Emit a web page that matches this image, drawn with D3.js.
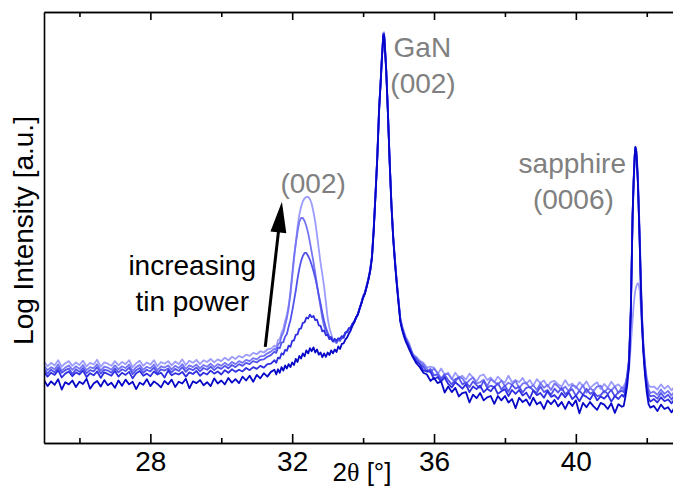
<!DOCTYPE html>
<html>
<head>
<meta charset="utf-8">
<script src="https://cdn.jsdelivr.net/npm/d3@7"></script>
<style>
  html, body { margin: 0; padding: 0; background: #ffffff; }
  svg { display: block; }
  text { font-family: "Liberation Sans", Arial, sans-serif; }
</style>
</head>
<body>
<svg id="chart" width="673" height="488"></svg>
<script>
// ---------------- DATA ----------------
const twoTheta = [
  25.0,25.1,25.2,25.3,25.4,25.5,25.6,25.7,25.8,25.9,26.0,26.1,26.2,26.3,26.4,26.5,26.6,26.7,26.8,26.9,
  27.0,27.1,27.2,27.3,27.4,27.5,27.6,27.7,27.8,27.9,28.0,28.1,28.2,28.3,28.4,28.5,28.6,28.7,28.8,28.9,
  29.0,29.1,29.2,29.3,29.4,29.5,29.6,29.7,29.8,29.9,30.0,30.1,30.2,30.3,30.4,30.5,30.6,30.7,30.8,30.9,
  31.0,31.1,31.2,31.3,31.4,
  31.5,31.55,31.6,31.65,31.7,31.75,31.8,31.85,31.9,31.95,32.0,32.05,32.1,32.15,32.2,32.25,32.3,32.35,32.4,32.45,
  32.5,32.55,32.6,32.65,32.7,32.75,32.8,32.85,32.9,32.95,33.0,33.05,33.1,33.15,33.2,33.25,33.3,33.35,33.4,33.45,
  33.5,33.55,33.6,33.65,33.7,33.75,33.8,33.85,33.9,33.95,
  34.0,34.05,34.1,34.15,34.2,34.25,34.3,34.35,34.4,34.45,34.5,34.53,34.55,34.57,34.59,34.61,34.65,34.7,34.75,34.8,
  34.85,34.9,34.95,35.0,35.05,35.1,35.15,35.2,35.25,35.3,
  35.4,35.5,35.6,35.7,35.8,35.9,36.0,36.1,36.2,36.3,36.4,36.5,36.6,36.7,36.8,36.9,37.0,37.1,37.2,37.3,
  37.4,37.5,37.6,37.7,37.8,37.9,38.0,38.1,38.2,38.3,38.4,38.5,38.6,38.7,38.8,38.9,39.0,39.1,39.2,39.3,
  39.4,39.5,39.6,39.7,39.8,39.9,40.0,40.1,40.2,40.3,40.4,40.5,40.6,40.7,40.8,40.9,41.0,41.1,41.2,41.3,
  41.35,41.4,41.45,41.5,41.55,41.6,41.63,41.66,41.68,41.7,41.72,41.75,41.77,41.8,41.83,41.86,41.9,41.95,42.0,42.05,42.1,
  42.2,42.3,42.4,42.5,42.6,42.7,42.8
];

// log intensity (arbitrary units 0-100), darkest sample -> lightest sample
const sampleA = [
  14.6,13.2,14.3,13.5,14.8,12.4,14.1,13.6,14.5,13.0,14.2,13.7,14.9,12.6,13.8,14.4,13.1,14.6,13.4,14.0,
  12.8,14.5,13.3,14.7,13.6,14.2,12.5,14.0,13.5,14.8,13.2,14.3,13.7,12.9,14.4,13.6,14.7,13.0,14.2,13.8,
  14.9,12.7,14.3,13.9,14.6,13.4,14.1,13.2,15.0,13.8,14.5,13.6,15.1,14.0,14.8,13.9,15.4,14.5,15.6,14.2,
  15.8,15.0,16.2,15.4,16.5,
  17.0,15.9,17.1,16.3,17.6,16.8,18.0,17.3,18.3,17.6,18.7,18.1,19.5,18.8,20.2,19.6,20.8,20.1,21.5,20.8,
  22.0,21.3,22.2,21.0,21.7,20.5,21.0,19.9,20.8,20.0,21.0,20.4,21.5,20.8,21.7,21.1,22.4,21.8,23.0,23.1,
  24.0,24.5,25.4,26.1,27.2,28.0,29.1,29.8,31.1,32.4,
  33.7,34.6,36.2,37.9,39.9,43.0,49.4,57.5,66.0,76.9,84.3,89.1,91.7,94.4,94.6,92.3,86.5,76.3,64.8,54.8,
  47.2,41.6,36.7,32.3,28.1,26.2,24.8,23.6,22.7,21.7,
  20.0,18.5,17.6,16.3,15.9,14.4,15.1,13.9,14.3,11.7,13.1,11.8,12.8,10.8,11.6,11.8,9.4,11.2,10.4,11.6,
  9.9,10.6,10.9,9.1,10.9,9.9,10.9,9.4,10.2,8.1,10.5,9.5,10.1,8.7,10.5,9.0,9.5,7.9,9.9,9.0,
  10.0,8.5,9.5,7.9,9.6,8.6,9.9,6.9,9.3,8.3,9.5,8.5,7.7,9.3,8.9,7.9,9.2,7.0,9.0,8.4,
  8.6,10.8,13.5,18.0,30.0,52.5,60.8,66.6,68.7,67.8,65.3,60.2,54.8,46.5,37.0,28.8,21.5,15.8,11.8,9.0,8.2,
  8.6,7.4,8.9,7.9,8.3,7.1,8.5
];
const sampleB = [
  16.5,15.4,16.3,15.8,16.9,15.2,16.1,16.6,15.5,16.4,15.9,16.8,15.3,16.2,15.7,16.6,15.1,16.4,16.0,15.6,
  16.7,15.4,16.3,15.8,16.5,15.0,16.2,16.7,15.6,16.1,15.5,16.6,15.9,16.3,15.2,16.8,15.7,16.2,15.9,16.5,
  15.4,16.4,16.0,16.7,15.6,16.3,15.9,16.8,16.1,16.6,15.9,16.9,16.3,17.1,16.5,17.0,16.6,17.4,16.9,17.6,
  17.2,17.9,17.5,18.3,18.4,
  19.2,18.6,19.8,19.6,20.8,20.5,21.6,21.4,22.6,22.3,23.7,23.8,25.1,25.2,26.5,26.6,27.9,28.0,29.1,28.9,
  29.8,29.2,29.5,28.5,28.6,27.3,27.2,25.9,26.1,25.0,25.1,24.1,24.4,23.6,24.2,23.7,24.3,24.2,24.8,24.6,
  25.6,25.9,26.6,26.8,27.7,28.2,29.1,29.8,31.2,32.4,
  33.8,34.8,36.3,38.0,40.0,43.0,49.5,57.6,66.2,77.1,84.5,89.4,91.9,94.8,94.9,92.6,86.8,76.6,65.0,55.0,
  47.4,41.9,37.0,32.6,28.4,26.6,25.2,24.0,23.1,22.2,
  20.2,18.9,18.3,16.8,16.7,16.5,14.8,15.3,14.3,15.2,13.7,12.9,14.1,13.4,12.6,13.6,11.8,13.1,12.5,13.3,
  11.8,12.6,12.0,13.1,11.4,12.0,12.5,10.9,12.3,11.4,12.3,11.0,11.7,10.3,12.2,11.1,11.6,10.5,12.0,10.7,
  11.1,10.2,11.6,10.6,11.7,10.2,11.0,9.7,11.2,10.7,10.1,11.5,9.9,10.8,10.3,11.2,9.6,10.9,10.2,11.2,
  10.7,12.0,14.8,18.8,30.6,52.8,60.9,66.7,68.6,67.9,65.5,60.4,55.0,46.9,37.5,29.3,22.2,16.8,12.9,10.5,9.6,
  10.2,9.4,10.6,9.7,10.1,9.2,10.4
];
const sampleC = [
  17.2,16.1,17.0,16.4,17.5,16.3,16.9,17.3,16.0,17.1,16.5,17.4,16.2,16.9,16.6,17.6,16.1,17.0,16.8,16.3,
  17.3,16.4,17.1,16.7,17.5,16.0,16.9,17.4,16.3,17.0,16.6,17.5,16.2,17.1,16.8,17.3,16.4,17.2,16.7,17.6,
  16.5,17.3,16.9,17.5,16.6,17.4,17.0,17.7,16.9,17.6,17.2,17.9,17.3,18.1,17.6,18.3,17.9,18.6,18.3,19.0,
  18.7,19.3,19.4,20.0,20.4,
  21.2,20.9,22.1,22.0,23.3,23.4,24.7,25.3,27.0,28.5,30.6,32.9,35.3,38.1,40.4,42.2,43.4,44.1,44.1,43.4,
  42.5,41.3,39.9,38.3,36.4,34.3,32.3,30.2,28.3,26.7,25.6,24.6,24.6,23.7,23.9,23.5,24.1,23.9,24.6,24.4,
  25.6,25.7,26.6,26.6,27.6,28.1,29.1,29.8,31.2,32.4,
  33.8,34.7,36.3,38.0,40.0,43.1,49.6,57.7,66.3,77.2,84.6,89.5,92.0,95.0,95.0,92.7,86.9,76.7,65.2,55.2,
  47.6,42.0,37.2,32.8,28.6,26.8,25.4,24.2,23.3,22.4,
  20.1,19.7,18.3,17.7,16.5,17.2,15.7,15.9,14.7,15.8,14.6,13.6,14.8,15.1,13.6,14.1,13.0,14.3,13.4,12.8,
  14.4,12.8,13.3,12.9,13.9,12.4,13.3,11.9,13.5,12.6,13.1,11.7,12.8,13.0,12.2,11.6,13.1,11.8,12.3,11.2,
  12.6,11.7,12.8,11.3,12.0,12.5,11.0,12.1,11.2,12.6,11.4,11.9,10.9,11.1,12.1,11.4,12.3,10.8,11.8,12.1,
  11.8,12.8,15.5,19.3,31.0,53.0,61.0,66.8,68.5,68.0,65.7,60.8,55.5,47.3,38.0,29.8,22.8,17.5,13.8,11.6,10.8,
  11.0,10.3,11.6,10.5,11.2,10.1,11.3
];
const sampleD = [
  17.9,16.9,17.6,17.1,18.2,16.8,17.5,18.0,17.0,17.8,17.2,18.1,16.9,17.6,17.3,18.3,16.8,17.7,17.5,17.0,
  18.0,17.1,17.8,17.4,18.2,16.7,17.6,18.1,17.0,17.7,17.3,18.2,16.9,17.8,17.5,18.0,17.1,17.9,17.4,18.3,
  17.2,18.0,17.6,18.2,17.3,18.1,17.7,18.4,17.6,18.3,17.9,18.6,18.0,18.8,18.3,19.0,18.6,19.3,19.0,19.7,
  19.4,20.1,20.2,20.8,21.2,
  21.9,21.5,22.9,23.2,24.8,25.6,27.3,29.0,31.3,35.0,39.0,43.2,46.2,49.0,51.3,52.2,52.2,51.5,50.3,48.7,
  46.6,44.3,42.0,39.4,36.7,34.1,31.6,29.0,27.1,26.0,25.2,24.2,24.1,23.5,23.6,23.2,23.9,23.7,24.3,24.4,
  25.5,25.6,26.5,26.6,27.5,28.0,29.0,29.7,31.1,32.3,
  34.0,34.9,36.5,38.2,40.3,43.4,49.9,58.0,66.6,77.5,84.8,89.5,91.9,94.6,94.8,92.5,86.8,76.6,65.1,55.3,
  47.8,42.2,37.3,32.9,28.8,27.0,25.6,24.4,23.6,22.7,
  20.7,19.3,18.9,18.2,17.2,16.4,17.3,16.3,15.0,16.0,16.0,14.9,14.2,15.4,15.0,13.7,14.6,15.2,13.8,14.1,
  14.7,13.2,14.8,14.2,13.5,14.5,13.2,14.0,13.5,14.5,12.7,13.8,14.0,12.8,13.4,12.3,13.9,12.8,13.5,12.3,
  13.8,13.1,12.3,13.1,12.0,13.4,13.1,12.1,13.4,11.7,12.7,12.1,13.1,13.3,11.7,12.7,12.2,13.1,11.6,12.9,
  12.4,13.4,16.0,19.6,30.5,51.5,60.0,66.0,68.2,68.2,66.5,62.0,57.0,49.0,39.5,31.0,23.8,18.2,14.6,12.5,11.6,
  11.9,11.2,12.4,11.4,12.1,11.0,12.2
];
const sampleE = [
  18.9,17.8,18.6,18.0,19.2,17.7,18.5,19.0,17.9,18.7,18.1,19.1,17.8,18.6,18.2,19.3,17.7,18.7,18.4,17.9,
  19.0,18.0,18.8,18.3,19.2,17.6,18.5,19.1,17.9,18.7,18.2,19.2,17.8,18.8,18.4,19.0,18.0,18.9,18.3,19.4,
  18.1,19.1,18.6,19.3,18.3,19.2,18.8,19.5,18.7,19.4,19.0,19.8,19.2,20.0,19.5,20.2,19.8,20.5,20.2,20.9,
  20.6,21.3,21.0,21.7,21.9,
  22.6,22.2,23.9,24.1,25.6,26.5,28.3,29.7,32.0,34.3,38.5,42.5,46.4,50.1,52.9,54.8,56.1,56.8,57.1,57.1,
  56.6,55.5,53.6,51.3,48.3,45.0,41.8,39.2,36.2,32.7,29.0,26.7,25.3,23.9,23.9,23.2,23.9,23.7,24.6,24.6,
  25.7,25.8,26.7,26.8,27.7,28.2,29.1,29.8,31.2,32.5,
  34.2,35.0,36.6,38.3,40.4,43.5,50.1,58.3,66.9,77.8,85.0,89.8,92.4,95.2,95.3,93.0,87.3,77.2,65.6,55.6,
  48.0,42.4,37.6,33.2,29.0,27.2,25.9,24.7,23.9,23.1,
  20.6,20.0,19.1,18.6,17.5,17.7,17.5,15.9,17.3,15.9,16.3,14.8,16.3,15.2,15.6,14.7,16.1,15.2,14.3,15.6,
  15.9,14.6,15.2,14.1,15.4,14.5,14.0,15.6,14.1,14.6,14.1,15.1,13.7,14.6,13.3,14.8,13.9,14.5,13.1,14.2,
  14.4,13.6,13.1,14.6,13.3,13.8,12.7,14.1,13.2,14.3,12.8,13.5,14.1,12.5,13.7,12.8,14.2,13.1,13.6,12.7,
  13.2,14.0,15.5,16.9,22.7,28.5,32.0,34.3,35.5,36.2,36.7,37.1,36.9,35.5,32.0,27.4,22.7,18.1,15.1,13.5,13.0,
  13.1,12.4,13.6,12.6,13.3,12.2,13.4
];

const sampleSeries = [sampleE, sampleD, sampleC, sampleB, sampleA];   // drawn light -> dark
const sampleColors = ["#9c9cfc", "#7474f4", "#5252ec", "#2e2ee0", "#0606c8"];

const xMajorTicks = [28, 32, 36, 40];
const xMinorTicks = [26, 30, 34, 38, 42];

// annotation anchors in data units (2θ, log intensity)
const peakLabels = [
  { text: "(002)",    x: 32.59, y: 58.0 },
  { text: "GaN",      x: 35.67, y: 89.6 },
  { text: "(002)",    x: 35.69, y: 81.2 },
  { text: "sapphire", x: 39.90, y: 62.6 },
  { text: "(0006)",   x: 39.93, y: 54.4 }
];
const noteLines = [
  { text: "increasing", x: 29.18, y: 39.0 },
  { text: "tin power",  x: 29.18, y: 30.6 }
];
const arrowFrom = { x: 31.24, y: 22.3 };
const arrowTo   = { x: 31.71, y: 56.0 };

// ---------------- CHART ----------------
const W = 673, H = 488;
const margin = { left: 44, top: 12, bottom: 45 };
const plotLeft = margin.left, plotTop = margin.top, plotBottom = H - margin.bottom;
const plotRight = W;

const svg = d3.select("#chart");
svg.append("rect").attr("width", W).attr("height", H).attr("fill", "#ffffff");

const x = d3.scaleLinear().domain([25, 42.74]).range([plotLeft, plotRight]);
const y = d3.scaleLinear().domain([0, 100]).range([plotBottom, plotTop]);

svg.append("clipPath").attr("id", "plotClip")
  .append("rect").attr("x", plotLeft).attr("y", plotTop)
  .attr("width", plotRight - plotLeft).attr("height", plotBottom - plotTop);

sampleSeries.forEach(s => {
  if (s.length !== twoTheta.length) console.error("length mismatch", s.length, twoTheta.length);
});

const line = d3.line()
  .x((d, i) => x(twoTheta[i]))
  .y(d => y(d));

const gLines = svg.append("g").attr("clip-path", "url(#plotClip)");
sampleSeries.forEach((s, k) => {
  gLines.append("path")
    .datum(s)
    .attr("d", line)
    .attr("fill", "none")
    .attr("stroke", sampleColors[k])
    .attr("stroke-width", 1.8)
    .attr("stroke-linejoin", "round");
});

// axes
const axisStroke = "#000000";
function styleAxis(g) {
  g.select(".domain").attr("stroke", axisStroke).attr("stroke-width", 1.6);
  g.selectAll(".tick line").attr("stroke", axisStroke).attr("stroke-width", 1.6);
}
const fontStack = '"Liberation Sans", Arial, sans-serif';

const gBottom = svg.append("g").attr("transform", `translate(0,${plotBottom})`)
  .call(d3.axisBottom(x).tickValues(xMajorTicks).tickSize(-9).tickSizeOuter(0).tickPadding(8).tickFormat(d3.format("d")));
styleAxis(gBottom);
gBottom.selectAll(".tick text")
  .attr("font-family", fontStack).attr("font-size", 28).attr("fill", "#000");

const gBottomMinor = svg.append("g").attr("transform", `translate(0,${plotBottom})`)
  .call(d3.axisBottom(x).tickValues(xMinorTicks).tickSize(-5).tickSizeOuter(0).tickFormat(""));
styleAxis(gBottomMinor);

const gTop = svg.append("g").attr("transform", `translate(0,${plotTop})`)
  .call(d3.axisTop(x).tickValues(xMajorTicks).tickSize(-8).tickSizeOuter(0).tickFormat(""));
styleAxis(gTop);
const gTopMinor = svg.append("g").attr("transform", `translate(0,${plotTop})`)
  .call(d3.axisTop(x).tickValues(xMinorTicks).tickSize(-5).tickSizeOuter(0).tickFormat(""));
styleAxis(gTopMinor);

const gLeft = svg.append("g").attr("transform", `translate(${plotLeft},0)`)
  .call(d3.axisLeft(y).tickValues([]).tickSizeOuter(0));
styleAxis(gLeft);

// axis titles
svg.append("text")
  .attr("transform", `translate(33,${(plotTop + plotBottom) / 2 + 3}) rotate(-90)`)
  .attr("text-anchor", "middle")
  .attr("font-size", 28)
  .attr("fill", "#000")
  .text("Log Intensity [a.u.]");

const xTitle = svg.append("text")
  .attr("x", 362).attr("y", 481)
  .attr("text-anchor", "middle")
  .attr("font-size", 26)
  .attr("fill", "#000");
xTitle.append("tspan").text("2");
xTitle.append("tspan").attr("font-family", '"Liberation Serif", "DejaVu Serif", serif').text("θ");
xTitle.append("tspan").text(" [°]");

// peak labels
svg.append("g").selectAll("text")
  .data(peakLabels).join("text")
  .attr("x", d => x(d.x)).attr("y", d => y(d.y))
  .attr("text-anchor", "middle")
  .attr("font-size", 28)
  .attr("fill", "#808080")
  .text(d => d.text);

// note
svg.append("g").selectAll("text")
  .data(noteLines).join("text")
  .attr("x", d => x(d.x)).attr("y", d => y(d.y))
  .attr("text-anchor", "middle")
  .attr("font-size", 28)
  .attr("fill", "#000")
  .text(d => d.text);

// arrow
const ax0 = x(arrowFrom.x), ay0 = y(arrowFrom.y);
const ax1 = x(arrowTo.x), ay1 = y(arrowTo.y);
const len = Math.hypot(ax1 - ax0, ay1 - ay0);
const ux = (ax1 - ax0) / len, uy = (ay1 - ay0) / len;
const headLen = 31, headHalf = 8;
const bx = ax1 - ux * headLen, by = ay1 - uy * headLen;
svg.append("line")
  .attr("x1", ax0).attr("y1", ay0).attr("x2", bx + ux * 2).attr("y2", by + uy * 2)
  .attr("stroke", "#000").attr("stroke-width", 3);
svg.append("path")
  .attr("d", `M${ax1},${ay1} L${bx - uy * headHalf},${by + ux * headHalf} L${bx + uy * headHalf},${by - ux * headHalf} Z`)
  .attr("fill", "#000");
</script>
</body>
</html>
